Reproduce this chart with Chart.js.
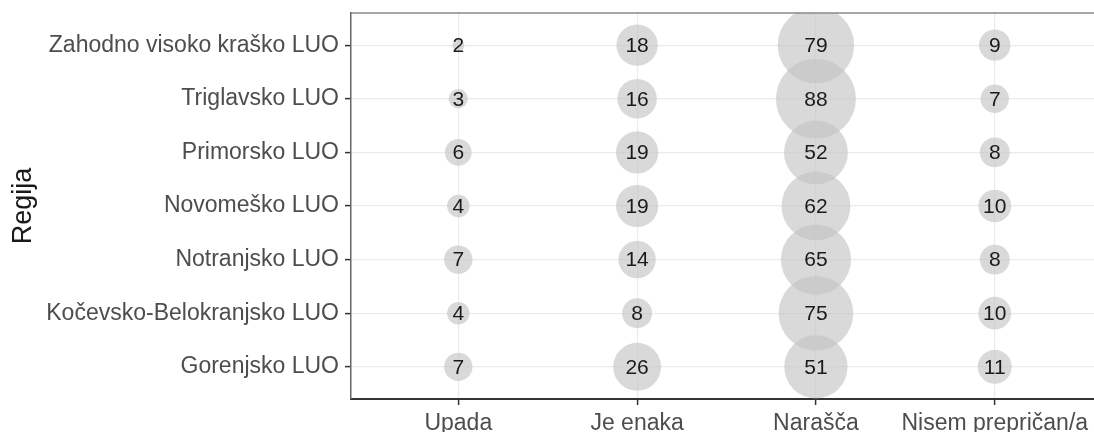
<!DOCTYPE html>
<html>
<head>
<meta charset="utf-8">
<script src="https://cdn.jsdelivr.net/npm/chart.js@4.4.1/dist/chart.umd.min.js"></script>
<style>
  html, body { margin: 0; padding: 0; background: #fff; }
  #wrap { width: 1094px; height: 432px; }
</style>
</head>
<body>
<div id="wrap"><canvas id="chart"></canvas></div>
<script>
// categories (x) and regions (y, bottom to top)
const answers = ['Upada', 'Je enaka', 'Narašča', 'Nisem prepričan/a'];
const regions = [
  'Gorenjsko LUO',
  'Kočevsko-Belokranjsko LUO',
  'Notranjsko LUO',
  'Novomeško LUO',
  'Primorsko LUO',
  'Triglavsko LUO',
  'Zahodno visoko kraško LUO',
];

// counts per answer, same order as regions
const upada = [7, 4, 7, 4, 6, 3, 2];
const jeEnaka = [26, 8, 14, 19, 19, 16, 18];
const narasca = [51, 75, 65, 62, 52, 88, 79];
const nisem = [11, 10, 8, 10, 8, 7, 9];

const columns = [upada, jeEnaka, narasca, nisem];
const allValues = columns.flat();
const vMin = Math.min(...allValues);
const vMax = Math.max(...allValues);

// area-like size scale (radius grows with sqrt of value)
function sizeOf(v) {
  return 6 + 34 * Math.sqrt((v - vMin) / (vMax - vMin));
}

const points = [];
columns.forEach((col, xi) => {
  col.forEach((v, yi) => {
    points.push({ x: xi, y: yi, r: sizeOf(v), v: v });
  });
});

const font = '"Liberation Sans", Arial, sans-serif';

const valueLabels = {
  id: 'valueLabels',
  afterDatasetsDraw(chart) {
    const ctx = chart.ctx;
    ctx.save();
    ctx.font = '21px ' + font;
    ctx.fillStyle = '#1a1a1a';
    ctx.textAlign = 'center';
    ctx.textBaseline = 'middle';
    chart.data.datasets.forEach((ds, i) => {
      chart.getDatasetMeta(i).data.forEach((pt, j) => {
        ctx.fillText(ds.data[j].v, pt.x, pt.y + 1);
      });
    });
    ctx.restore();
  },
};

const topBorder = {
  id: 'topBorder',
  afterDraw(chart) {
    const { ctx, chartArea } = chart;
    ctx.save();
    ctx.strokeStyle = '#888';
    ctx.lineWidth = 1.5;
    ctx.beginPath();
    ctx.moveTo(chartArea.left, chartArea.top);
    ctx.lineTo(chartArea.right, chartArea.top);
    ctx.stroke();
    ctx.restore();
  },
};

function noEdgePadding(s) {
  s.paddingTop = 0;
  s.paddingBottom = 0;
  s.paddingLeft = 0;
  s.paddingRight = 0;
}

new Chart(document.getElementById('chart'), {
  type: 'bubble',
  data: {
    datasets: [
      {
        data: points,
        backgroundColor: 'rgba(195,195,195,0.64)',
        borderWidth: 0,
      },
    ],
  },
  options: {
    responsive: true,
    maintainAspectRatio: false,
    animation: false,
    events: [],
    layout: { autoPadding: false, padding: { top: 13, left: 0, right: 0, bottom: 0 } },
    plugins: {
      legend: { display: false },
      tooltip: { enabled: false },
    },
    scales: {
      x: {
        type: 'linear',
        min: -0.6,
        max: 3.555,
        afterBuildTicks: (s) => {
          s.ticks = answers.map((_, i) => ({ value: i }));
        },
        afterFit: (s) => {
          s.height = 33;
          noEdgePadding(s);
        },
        ticks: {
          callback: (v) => answers[v],
          font: { family: font, size: 23 },
          color: '#4d4d4d',
          padding: 5,
          maxRotation: 0,
          autoSkip: false,
        },
        grid: {
          color: '#ebebeb',
          lineWidth: 1.2,
          tickColor: '#333',
          tickLength: 6,
          tickWidth: 1.5,
        },
        border: { display: true, color: '#333', width: 2 },
      },
      y: {
        type: 'linear',
        min: -0.6,
        max: 6.6,
        afterBuildTicks: (s) => {
          s.ticks = regions.map((_, i) => ({ value: i }));
        },
        afterFit: (s) => {
          s.width = 351;
          noEdgePadding(s);
        },
        ticks: {
          callback: (v) => regions[v],
          font: { family: font, size: 23 },
          color: '#4d4d4d',
          padding: 6,
          autoSkip: false,
        },
        grid: {
          color: '#ebebeb',
          lineWidth: 1.2,
          tickColor: '#333',
          tickLength: 6,
          tickWidth: 1.5,
        },
        border: { display: true, color: '#666', width: 1.5 },
        title: {
          display: true,
          text: 'Regija',
          font: { family: font, size: 27 },
          color: '#1a1a1a',
          padding: { top: 7, bottom: 0 },
        },
      },
    },
  },
  plugins: [valueLabels, topBorder],
});
</script>
</body>
</html>
